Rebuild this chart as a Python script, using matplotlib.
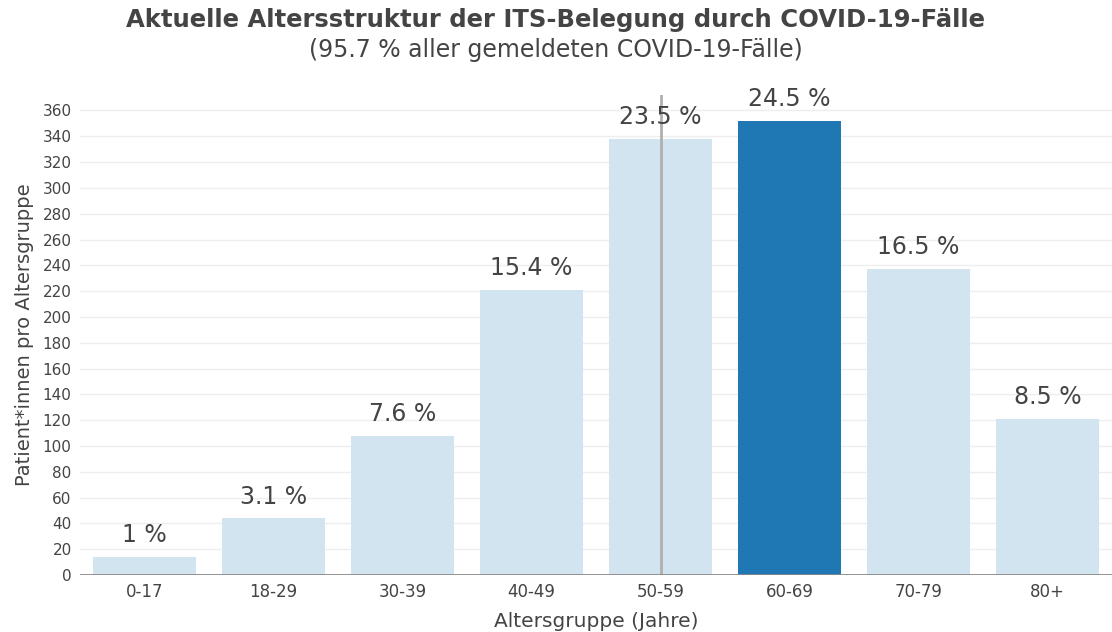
import numpy as np
import matplotlib.pyplot as plt

# Chart data
age_groups = ['0-17', '18-29', '30-39', '40-49', '50-59', '60-69', '70-79', '80+']
patients = [14, 44, 108, 221, 338, 352, 237, 121]
share_labels = ['1 %', '3.1 %', '7.6 %', '15.4 %', '23.5 %', '24.5 %', '16.5 %', '8.5 %']
highlight = '60-69'
hover_group = '50-59'

text_col = '#444444'
dark_blue = '#1f77b4'
light_blue = '#d2e4f0'

fig = plt.figure(figsize=(11.12, 6.32), dpi=100)
ax = fig.add_axes([80 / 1112, 1 - 575 / 632, 1 - 80 / 1112, (575 - 95) / 632])

x = np.arange(len(age_groups))
colors = [dark_blue if g == highlight else light_blue for g in age_groups]
bars = ax.bar(x, patients, width=0.8, color=colors, zorder=2)

# Percent labels above bars
for xi, val, lab in zip(x, patients, share_labels):
    ax.annotate(lab, (xi, val), xytext=(0, 7), textcoords='offset points',
                ha='center', va='bottom', fontsize=17, color=text_col, zorder=4)

# Hover spike line
ax.axvline(age_groups.index(hover_group), color='#b0b0b0', lw=2, zorder=3)

ax.set_xlim(-0.5, len(age_groups) - 0.5)
ax.set_ylim(0, 372)
ax.set_yticks(np.arange(0, 361, 20))
ax.set_xticks(x)
ax.set_xticklabels(age_groups)
ax.grid(axis='y', color='#eeeeee', lw=1, zorder=0)
ax.axhline(0, color='#888888', lw=2, zorder=3)

for s in ax.spines.values():
    s.set_visible(False)
ax.tick_params(axis='y', length=0, labelsize=11, labelcolor=text_col, pad=6)
ax.tick_params(axis='x', length=0, labelsize=12, labelcolor=text_col, pad=6)

ax.set_xlabel('Altersgruppe (Jahre)', fontsize=14.5, color=text_col, labelpad=8)
ax.set_ylabel('Patient*innen pro Altersgruppe', fontsize=14, color=text_col, labelpad=6)

fig.text(0.5, 1 - 20 / 632, 'Aktuelle Altersstruktur der ITS-Belegung durch COVID-19-Fälle',
         ha='center', va='center', fontsize=17.5, fontweight='bold', color=text_col)
fig.text(0.5, 1 - 50 / 632, '(95.7 % aller gemeldeten COVID-19-Fälle)',
         ha='center', va='center', fontsize=17, color=text_col)

fig.savefig('out.png', dpi=100)
